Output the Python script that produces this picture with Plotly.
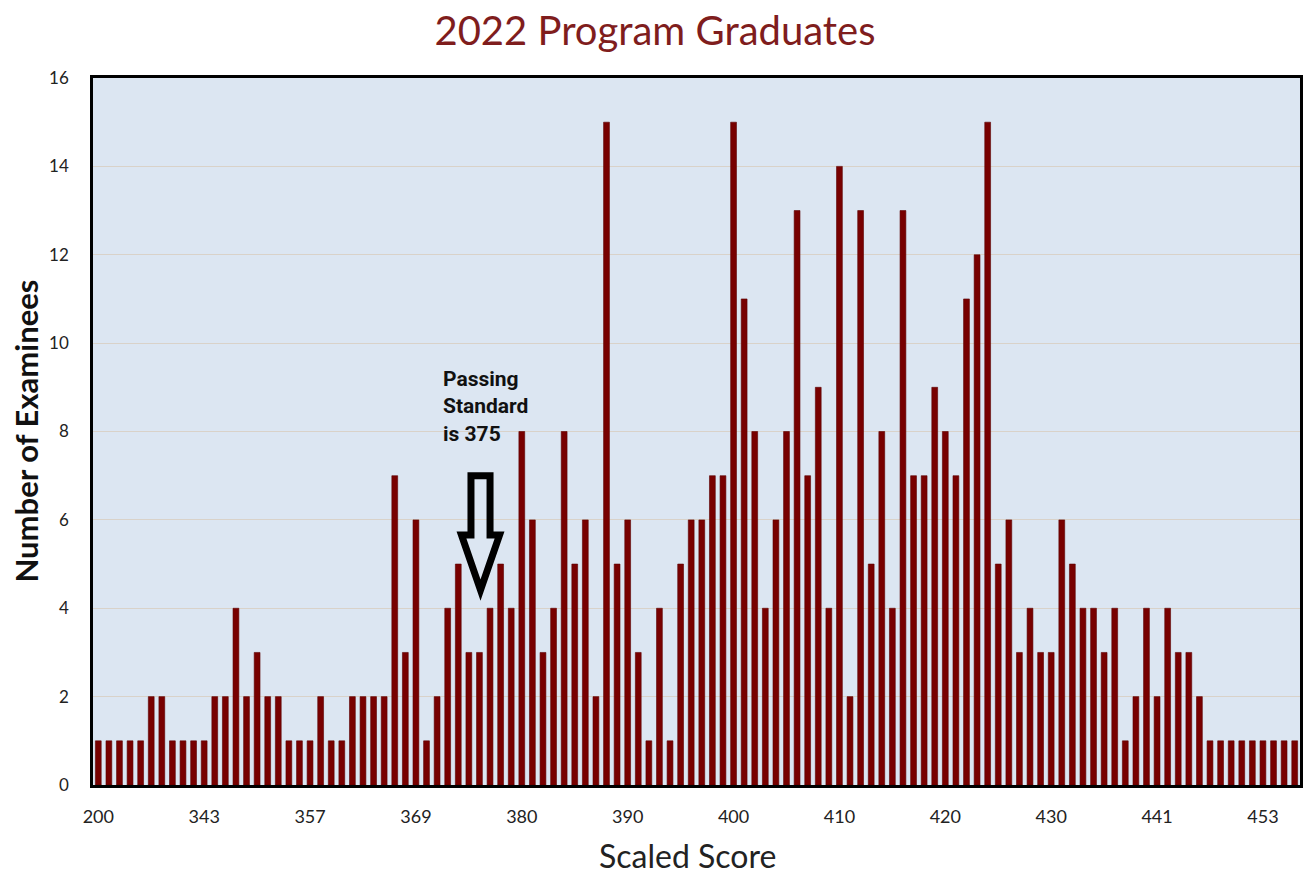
import plotly.graph_objects as go

# Number of examinees per scaled-score bin (left to right)
counts = [
    1, 1, 1, 1, 1, 2, 2, 1, 1, 1,
    1, 2, 2, 4, 2, 3, 2, 2, 1, 1,
    1, 2, 1, 1, 2, 2, 2, 2, 7, 3,
    6, 1, 2, 4, 5, 3, 3, 4, 5, 4,
    8, 6, 3, 4, 8, 5, 6, 2, 15, 5,
    6, 3, 1, 4, 1, 5, 6, 6, 7, 7,
    15, 11, 8, 4, 6, 8, 13, 7, 9, 4,
    14, 2, 13, 5, 8, 4, 13, 7, 7, 9,
    8, 7, 11, 12, 15, 5, 6, 3, 4, 3,
    3, 6, 5, 4, 4, 3, 4, 1, 2, 4,
    2, 4, 3, 3, 2, 1, 1, 1, 1, 1,
    1, 1, 1, 1,
]
# Labels shown under every 10th bar
tick_labels = ["200", "343", "357", "369", "380", "390", "400", "410", "420", "430", "441", "453"]
LABEL_STEP = 10

positions = list(range(len(counts)))
tickvals = [i * LABEL_STEP for i in range(len(tick_labels))]

fig = go.Figure()
fig.add_trace(go.Bar(
    x=positions, y=counts,
    width=0.55,
    marker=dict(color="#780000", line=dict(color="#5c0000", width=0.6)),
    showlegend=False,
))

# Hollow arrow pointing down at the passing standard (data coordinates)
ARROW_L, ARROW_R = 35.2, 37.0
ARROW_WL, ARROW_WR = 34.3, 37.9
ARROW_MID = 36.1
ARROW_TOP, ARROW_NECK, ARROW_TIP = 7.0, 5.66, 4.41
arrow_path = (
    f"M {ARROW_L},{ARROW_TOP} L {ARROW_R},{ARROW_TOP} L {ARROW_R},{ARROW_NECK} "
    f"L {ARROW_WR},{ARROW_NECK} L {ARROW_MID},{ARROW_TIP} L {ARROW_WL},{ARROW_NECK} "
    f"L {ARROW_L},{ARROW_NECK} Z"
)
fig.add_shape(type="path", path=arrow_path, xref="x", yref="y",
              line=dict(color="black", width=7), fillcolor="rgba(0,0,0,0)")

fig.add_annotation(
    x=32.4, y=9.5, xref="x", yref="y", xanchor="left", yanchor="top",
    text="Passing<br>Standard<br>is 375", showarrow=False, align="left",
    font=dict(family="Roboto", size=21, color="#111111", weight="bold"),
)

# Axis titles placed as annotations (relative to the plot area)
fig.add_annotation(
    x=(687 - 93) / 1207, y=(785 - 855) / 707, xref="paper", yref="paper",
    text="Scaled Score", showarrow=False, xanchor="center", yanchor="middle",
    font=dict(family="Lato", size=32, color="#222222"),
)
fig.add_annotation(
    x=(25 - 93) / 1207, y=0.5, xref="paper", yref="paper",
    text="Number of Examinees", showarrow=False, textangle=-90,
    xanchor="center", yanchor="middle",
    font=dict(family="Lato", size=31, color="#111111", weight="bold"),
)

fig.update_layout(
    width=1304, height=876,
    margin=dict(l=93, r=4, t=78, b=91, autoexpand=False),
    paper_bgcolor="white",
    plot_bgcolor="#dce6f2",
    title=dict(text="2022 Program Graduates", x=655 / 1304, xanchor="center",
               y=1 - 31 / 876, yanchor="middle", xref="container", yref="container",
               font=dict(family="Lato", size=40, color="#7f1d1d")),
    bargap=0.45,
)
fig.update_xaxes(
    range=[-0.5, len(counts) - 0.5],
    tickmode="array", tickvals=tickvals, ticktext=tick_labels,
    tickfont=dict(family="Lato", size=18, color="#222222"),
    ticks="", ticklabelstandoff=14,
    showgrid=False, zeroline=False,
    showline=True, linecolor="black", linewidth=2.5, mirror=True,
)
fig.update_yaxes(
    range=[0, 16], dtick=2,
    tickfont=dict(family="Lato", size=17, color="#222222"),
    ticks="", ticklabelstandoff=18,
    showgrid=True, gridcolor="#d9d2c9", gridwidth=1, zeroline=False,
    showline=True, linecolor="black", linewidth=2.5, mirror=True,
)

fig.write_html("out.html", config={"displayModeBar": False},
               post_script="document.body.style.margin='0';")
